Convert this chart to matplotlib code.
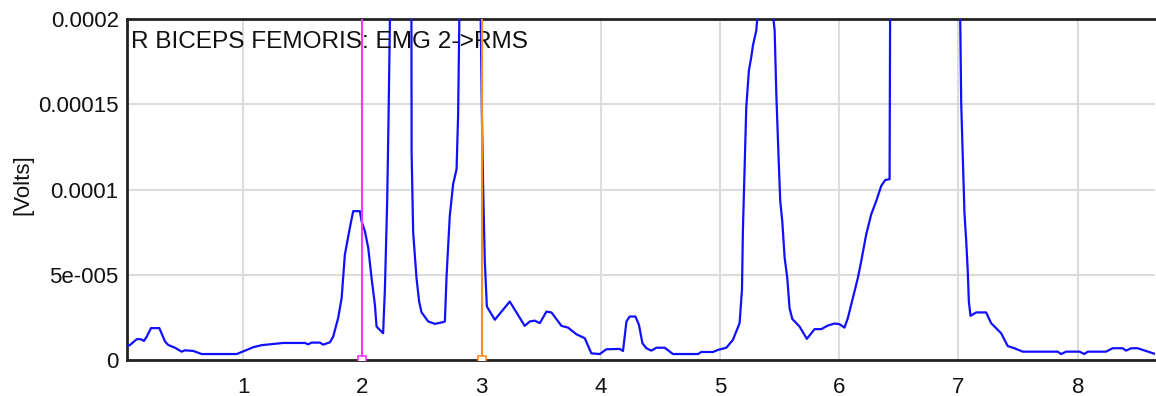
import matplotlib.pyplot as plt

# EMG RMS trace, time in seconds, amplitude in units of 1e-5 V
t = [0.026, 0.051, 0.107, 0.141, 0.168, 0.191, 0.227, 0.297, 0.345, 0.372,
     0.428, 0.484, 0.512, 0.582, 0.652, 0.946, 1.015, 1.085, 1.155, 1.336,
     1.518, 1.546, 1.574, 1.644, 1.671, 1.728, 1.755, 1.797, 1.826, 1.853,
     1.895, 1.923, 1.979, 1.993, 2.021, 2.049, 2.077, 2.105, 2.119, 2.174,
     2.189, 2.208, 2.220, 2.235, 2.30, 2.37, 2.411, 2.413, 2.426, 2.454,
     2.476, 2.496, 2.552, 2.608, 2.677, 2.692, 2.706, 2.733, 2.761, 2.790,
     2.803, 2.817, 2.88, 2.94, 2.989, 3.002, 3.013, 3.027, 3.044, 3.111,
     3.236, 3.362, 3.404, 3.446, 3.488, 3.544, 3.586, 3.670, 3.725, 3.795,
     3.865, 3.921, 3.991, 4.047, 4.158, 4.186, 4.215, 4.242, 4.290, 4.320,
     4.349, 4.382, 4.424, 4.466, 4.536, 4.605, 4.815, 4.843, 4.941, 4.982,
     5.053, 5.108, 5.164, 5.184, 5.192, 5.206, 5.220, 5.242, 5.262, 5.276,
     5.304, 5.318, 5.38, 5.443, 5.458, 5.472, 5.491, 5.505, 5.522, 5.542,
     5.564, 5.583, 5.606, 5.667, 5.728, 5.793, 5.849, 5.904, 5.960, 6.002,
     6.044, 6.072, 6.114, 6.156, 6.184, 6.226, 6.268, 6.310, 6.352, 6.386,
     6.422, 6.427, 6.60, 6.85, 7.013, 7.023, 7.050, 7.065, 7.078, 7.087,
     7.101, 7.148, 7.232, 7.274, 7.358, 7.413, 7.469, 7.539, 7.832, 7.861,
     7.903, 8.015, 8.056, 8.084, 8.238, 8.293, 8.377, 8.406, 8.448, 8.503,
     8.573, 8.651]
emg = [0.82, 0.88, 1.22, 1.22, 1.12, 1.37, 1.87, 1.87, 1.08, 0.88,
       0.72, 0.49, 0.57, 0.53, 0.35, 0.35, 0.55, 0.75, 0.87, 1.00,
       1.00, 0.92, 1.02, 1.02, 0.90, 1.04, 1.37, 2.47, 3.63, 6.18,
       7.76, 8.73, 8.73, 8.14, 7.56, 6.58, 4.81, 3.24, 1.96, 1.57,
       4.18, 9.32, 14.43, 22.0, 30.0, 28.0, 22.0, 12.1, 7.48, 4.81,
       3.43, 2.80, 2.26, 2.12, 2.22, 2.26, 4.91, 8.44, 10.31, 11.19,
       14.37, 22.0, 35.0, 30.0, 22.0, 14.62, 10.01, 5.77, 3.14, 2.36,
       3.43, 2.00, 2.26, 2.31, 2.16, 2.84, 2.79, 2.00, 1.90, 1.51,
       1.28, 0.39, 0.35, 0.63, 0.65, 0.53, 2.26, 2.55, 2.55, 2.06,
       0.98, 0.69, 0.55, 0.72, 0.72, 0.35, 0.35, 0.47, 0.47, 0.59,
       0.72, 1.18, 2.16, 4.12, 7.66, 11.29, 14.82, 16.98, 17.77, 18.45,
       19.33, 20.5, 23.0, 20.3, 19.33, 15.61, 11.88, 9.32, 8.14, 5.99,
       4.81, 3.04, 2.41, 1.96, 1.24, 1.81, 1.81, 2.02, 2.14, 2.10,
       1.90, 2.46, 3.63, 4.81, 5.79, 7.36, 8.54, 9.32, 10.21, 10.56,
       10.60, 21.0, 35.0, 30.0, 21.0, 15.02, 8.64, 6.97, 5.20, 3.43,
       2.59, 2.79, 2.79, 2.16, 1.57, 0.82, 0.69, 0.49, 0.49, 0.35,
       0.49, 0.49, 0.35, 0.49, 0.49, 0.69, 0.69, 0.55, 0.69, 0.69,
       0.53, 0.35]

cursor_a = 2.0
cursor_b = 3.0
xticks = [1, 2, 3, 4, 5, 6, 7, 8]
yticks = [0, 5e-5, 1e-4, 1.5e-4, 2e-4]
ylabels = ["0", "5e-005", "0.0001", "0.00015", "0.0002"]

plt.rcParams['font.family'] = ['Liberation Sans', 'DejaVu Sans']

fig = plt.figure(figsize=(11.56, 3.96), dpi=100)
ax = fig.add_axes([0.1099, 0.0909, 0.8895, 0.8611])

ax.plot(t, [v * 1e-5 for v in emg], color="#1010ff", linewidth=1.6, zorder=3)

# cursors
ax.axvline(cursor_a, color="#ff33ff", linewidth=1.5, zorder=4)
ax.axvline(cursor_b, color="#ff8c1a", linewidth=1.5, zorder=4)
ax.plot([cursor_a], [0], marker="s", markersize=6, markerfacecolor="white",
        markeredgecolor="#ff33ff", markeredgewidth=1.2, zorder=5)
ax.plot([cursor_b], [0], marker="s", markersize=6, markerfacecolor="white",
        markeredgecolor="#ff8c1a", markeredgewidth=1.2, zorder=5)

ax.set_xlim(0.026, 8.651)
ax.set_ylim(0, 2e-4)
ax.set_xticks(xticks)
ax.set_xticklabels([str(x) for x in xticks])
ax.set_yticks(yticks)
ax.set_yticklabels(ylabels)
ax.tick_params(length=0, labelsize=16, pad=6, labelcolor="#111111")
ax.tick_params(axis="x", pad=12)
ax.grid(True, color="#dcdcdc", linewidth=1.5)
ax.set_axisbelow(True)

for side in ["left", "bottom", "top"]:
    ax.spines[side].set_linewidth(2)
    ax.spines[side].set_color("#222222")
ax.spines["right"].set_visible(False)

ax.set_ylabel("[Volts]", fontsize=16, color="#111111")
ax.yaxis.set_label_coords(-0.091, 0.513)
ax.text(0.004, 0.965, "R BICEPS FEMORIS: EMG 2->RMS", transform=ax.transAxes,
        fontsize=17.6, va="top", ha="left", color="#111111")

fig.savefig("out.png", dpi=100)
